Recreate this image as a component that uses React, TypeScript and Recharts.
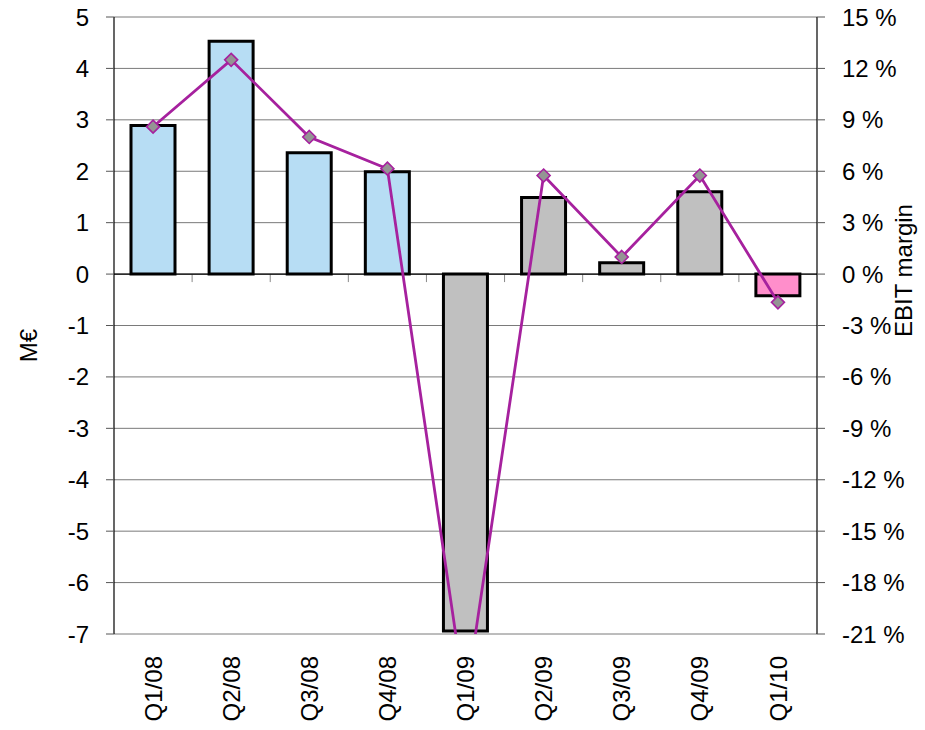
import React from "react";
import { Bar, Cell, ComposedChart, CartesianGrid, Line, ReferenceLine, XAxis, YAxis } from "recharts";

const quarters = ["Q1/08", "Q2/08", "Q3/08", "Q4/08", "Q1/09", "Q2/09", "Q3/09", "Q4/09", "Q1/10"];
const ebitMeur = [2.89, 4.53, 2.36, 1.99, -6.94, 1.49, 0.22, 1.6, -0.42];
const ebitMarginPct = [8.6, 12.5, 8.0, 6.15, -24.9, 5.75, 1.0, 5.75, -1.65];
const leftTicks = [5, 4, 3, 2, 1, 0, -1, -2, -3, -4, -5, -6, -7];
const rightTicks = [15, 12, 9, 6, 3, 0, -3, -6, -9, -12, -15, -18, -21];

const FONT = "'Liberation Sans', Arial, sans-serif";
const LINE_COLOR = "#A6219E";
const yearColors: Record<string, string> = { "08": "#B7DDF4", "09": "#C0C0C0", "10": "#FF8ECB" };

const data = quarters.map((q, i) => ({ q, ebit: ebitMeur[i], margin: ebitMarginPct[i] }));

const tickStyle = { fontSize: 24, fill: "#000", fontFamily: FONT };

function QuarterTick({ x, y, payload }: any) {
  const ty = y + 22;
  return (
    <text
      x={x}
      y={ty}
      dy="0.36em"
      textAnchor="end"
      transform={`rotate(-90, ${x}, ${ty})`}
      fontSize={24}
      fontFamily={FONT}
      fill="#000"
    >
      {payload.value}
    </text>
  );
}

function Diamond({ cx, cy }: any) {
  if (cx == null || cy == null) return null;
  const r = 6.5;
  return (
    <path
      d={`M${cx},${cy - r} L${cx + r},${cy} L${cx},${cy + r} L${cx - r},${cy} Z`}
      fill="#949494"
      stroke={LINE_COLOR}
      strokeWidth={1.6}
    />
  );
}

// zero line with small ticks between categories
function ZeroLine({ x1, y1, x2, y2 }: any) {
  const n = quarters.length;
  const step = (x2 - x1) / n;
  const marks = [];
  for (let i = 1; i < n; i++) {
    const x = x1 + i * step;
    marks.push(<line key={i} x1={x} x2={x} y1={y1} y2={y1 + 8} stroke="#888" strokeWidth={1} />);
  }
  return (
    <g>
      {marks}
      <line x1={x1} y1={y1} x2={x2} y2={y2} stroke="#000" strokeWidth={1.2} />
    </g>
  );
}

function AxisTitle({ viewBox, text, cx, shift }: any) {
  const y = viewBox.y + viewBox.height / 2 + shift;
  return (
    <text
      x={cx}
      y={y}
      dy="0.36em"
      textAnchor="middle"
      transform={`rotate(-90, ${cx}, ${y})`}
      fontSize={24}
      fontFamily={FONT}
      fill="#000"
    >
      {text}
    </text>
  );
}

export default function App() {
  return (
    <div style={{ position: "absolute", left: 0, top: 0, background: "#fff" }}>
      <ComposedChart width={925} height={730} data={data} margin={{ top: 17, right: 0, bottom: 0, left: 0 }}>
        <CartesianGrid yAxisId="left" vertical={false} stroke="#7a7a7a" />
        <XAxis
          dataKey="q"
          interval={0}
          axisLine={false}
          tickLine={false}
          tickSize={0}
          tickMargin={0}
          height={96}
          tick={<QuarterTick />}
        />
        <YAxis
          yAxisId="left"
          width={114}
          domain={[-7, 5]}
          ticks={leftTicks}
          interval={0}
          tickSize={8}
          tickMargin={17}
          tick={tickStyle}
          axisLine={{ stroke: "#000", strokeWidth: 1.2 }}
          tickLine={{ stroke: "#555" }}
          label={(props: any) => <AxisTitle {...props} text="M€" cx={28} shift={20} />}
        />
        <YAxis
          yAxisId="right"
          orientation="right"
          width={108}
          domain={[-21, 15]}
          allowDataOverflow
          ticks={rightTicks}
          interval={0}
          tickSize={8}
          tickMargin={17}
          tick={tickStyle}
          tickFormatter={(v: number) => `${v} %`}
          axisLine={{ stroke: "#000", strokeWidth: 1.2 }}
          tickLine={{ stroke: "#555" }}
          label={(props: any) => <AxisTitle {...props} text="EBIT margin" cx={903} shift={-55} />}
        />
        <Bar yAxisId="left" dataKey="ebit" barSize={44} stroke="#000" strokeWidth={3} isAnimationActive={false}>
          {quarters.map((q) => (
            <Cell key={q} fill={yearColors[q.slice(3)]} />
          ))}
        </Bar>
        <ReferenceLine yAxisId="left" y={0} shape={<ZeroLine />} />
        <Line
          yAxisId="right"
          dataKey="margin"
          stroke={LINE_COLOR}
          strokeWidth={2.8}
          dot={<Diamond />}
          activeDot={false}
          isAnimationActive={false}
        />
      </ComposedChart>
    </div>
  );
}
